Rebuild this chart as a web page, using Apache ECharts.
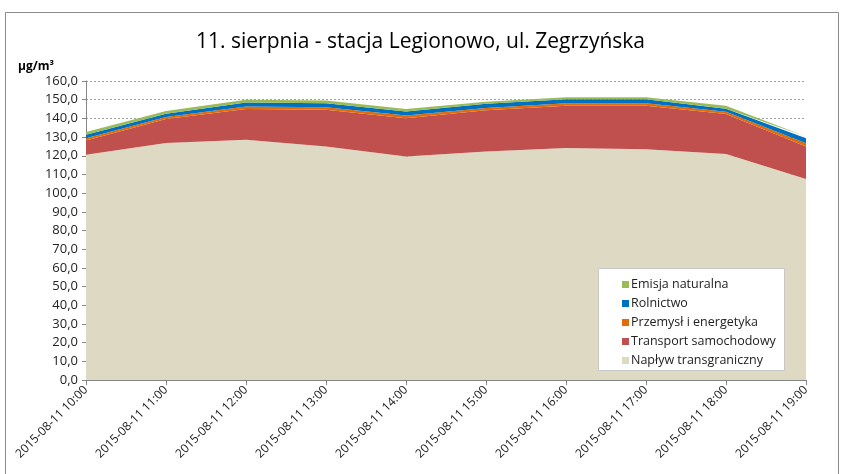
<!DOCTYPE html>
<html>
<head>
<meta charset="utf-8">
<script src="https://cdn.jsdelivr.net/npm/echarts@6/dist/echarts.min.js"></script>
<style>
  html, body { margin: 0; padding: 0; background: #fff; }
  #chart { width: 841px; height: 474px; }
</style>
</head>
<body>
<div id="chart"></div>
<script>
const hours = ['2015-08-11 10:00', '2015-08-11 11:00', '2015-08-11 12:00', '2015-08-11 13:00', '2015-08-11 14:00',
  '2015-08-11 15:00', '2015-08-11 16:00', '2015-08-11 17:00', '2015-08-11 18:00', '2015-08-11 19:00']

// wartości (µg/m³), kolejność stosu od dołu
const naplyw = [120.5, 126.8, 128.5, 125.0, 119.6, 122.3, 124.1, 123.5, 120.9, 107.5]
const transport = [7.7, 12.8, 16.5, 19.6, 20.5, 22.0, 22.7, 23.3, 21.4, 17.5]
const przemysl = [1.2, 1.1, 1.4, 1.4, 1.5, 1.2, 1.3, 1.3, 1.2, 1.7]
const rolnictwo = [1.8, 1.8, 2.1, 2.1, 2.1, 2.3, 2.2, 2.2, 1.7, 2.7]
const emisja = [1.5, 1.4, 1.5, 1.5, 1.3, 1.1, 1.0, 1.0, 1.6, 0.9]

const yMin = 0
const yMax = 160
const yStep = 10

const font = 'Open Sans'

function area(name, data, color) {
  return {
    name: name,
    type: 'line',
    stack: 'total',
    data: data,
    symbol: 'none',
    lineStyle: { width: 0 },
    areaStyle: { color: color, opacity: 1 },
    itemStyle: { color: color }
  }
}

const chart = echarts.init(document.getElementById('chart'))

chart.setOption({
  animation: false,
  title: {
    text: '11. sierpnia - stacja Legionowo, ul. Zegrzyńska',
    left: 'center',
    top: 27,
    textStyle: { fontFamily: font, fontSize: 21, fontWeight: 'normal', color: '#000' }
  },
  graphic: [
    {
      type: 'rect',
      shape: { x: 5.5, y: 12.5, width: 833, height: 470 },
      style: { fill: 'none', stroke: '#8c8c8c', lineWidth: 1 },
      z: 0
    },
    {
      type: 'text',
      left: 18,
      top: 61,
      style: { text: 'µg/m³', fontFamily: font, fontSize: 12, fontWeight: 'bold', fill: '#000' }
    },
    {
      type: 'rect',
      shape: { x: 598.5, y: 268.5, width: 186, height: 102 },
      style: { fill: '#fff', stroke: '#c8c8c8', lineWidth: 1 },
      z: 10
    }
  ],
  legend: {
    orient: 'vertical',
    left: 617,
    top: 273,
    itemWidth: 7,
    itemHeight: 7,
    itemGap: 6,
    icon: 'rect',
    z: 20,
    textStyle: { fontFamily: font, fontSize: 12.5, color: '#222', padding: [0, 0, 0, -3] },
    data: ['Emisja naturalna', 'Rolnictwo', 'Przemysł i energetyka', 'Transport samochodowy', 'Napływ transgraniczny']
  },
  grid: { left: 86, right: 35, top: 81, bottom: 94 },
  xAxis: {
    type: 'category',
    boundaryGap: false,
    data: hours,
    axisLine: { lineStyle: { color: '#868686' } },
    axisTick: { show: true, length: 5, lineStyle: { color: '#868686' } },
    axisLabel: { rotate: 45, fontFamily: font, fontSize: 12, color: '#222', margin: 8 }
  },
  yAxis: {
    type: 'value',
    min: yMin,
    max: yMax,
    interval: yStep,
    axisLine: { show: true, lineStyle: { color: '#868686' } },
    axisTick: { show: true, length: 4, lineStyle: { color: '#868686' } },
    axisLabel: {
      fontFamily: font,
      fontSize: 13,
      color: '#222',
      margin: 8,
      formatter: v => v.toFixed(1).replace('.', ',')
    },
    splitLine: { lineStyle: { color: '#a0a0a0', type: [2, 2] } }
  },
  series: [
    area('Napływ transgraniczny', naplyw, '#ddd9c3'),
    area('Transport samochodowy', transport, '#c0504d'),
    area('Przemysł i energetyka', przemysl, '#e36c09'),
    area('Rolnictwo', rolnictwo, '#0070c0'),
    area('Emisja naturalna', emisja, '#9bbb59')
  ]
})
</script>
</body>
</html>
